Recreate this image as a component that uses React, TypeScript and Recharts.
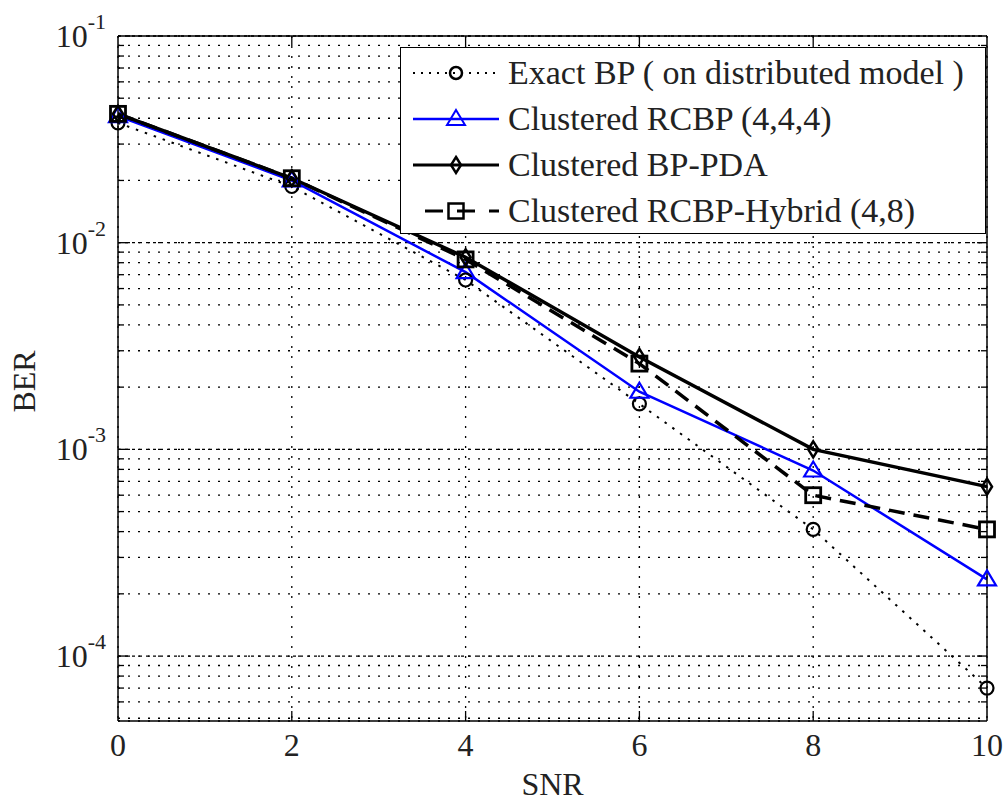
import React from "react";
import { LineChart, Line, XAxis, YAxis, CartesianGrid, Legend, ReferenceLine } from "recharts";

const snr = [0, 2, 4, 6, 8, 10];
const exactBP = [0.038, 0.0187, 0.0066, 0.00166, 0.00041, 0.00007];
const rcbp444 = [0.041, 0.02, 0.0072, 0.0019, 0.00079, 0.000235];
const bpPda = [0.042, 0.0205, 0.0085, 0.0028, 0.001, 0.00066];
const hybrid48 = [0.042, 0.0205, 0.0083, 0.0026, 0.0006, 0.00041];

const xTicks = [0, 2, 4, 6, 8, 10];
const decades = [0.0001, 0.001, 0.01, 0.1];
const yTicks = [
  0.00005, 0.00006, 0.00007, 0.00008, 0.00009,
  0.0001, 0.0002, 0.0003, 0.0004, 0.0005, 0.0006, 0.0007, 0.0008, 0.0009,
  0.001, 0.002, 0.003, 0.004, 0.005, 0.006, 0.007, 0.008, 0.009,
  0.01, 0.02, 0.03, 0.04, 0.05, 0.06, 0.07, 0.08, 0.09,
  0.1,
];

const seriesNames = [
  "Exact BP ( on distributed model )",
  "Clustered RCBP (4,4,4)",
  "Clustered BP-PDA",
  "Clustered RCBP-Hybrid (4,8)",
];

const rows = snr.map((s, i) => ({
  snr: s,
  exact: exactBP[i],
  rcbp: rcbp444[i],
  pda: bpPda[i],
  hybrid: hybrid48[i],
}));

const FONT = "Liberation Serif, DejaVu Serif, Noto Serif, serif";
const BLUE = "#0000ff";

const isDecade = (v: number) => decades.includes(v);

const LeftTick = (props: any) => {
  const { x, y, payload } = props;
  const v = payload.value;
  const major = isDecade(v);
  const exp = Math.round(Math.log10(v));
  return (
    <g>
      {v > 0.00005 && v < 0.1 && (
        <line x1={x} x2={x + (major ? 10 : 6)} y1={y} y2={y} stroke="#000" strokeWidth={1.3} />
      )}
      {major && (
        <text x={x - 12} y={y + 11} textAnchor="end" fontFamily={FONT} fontSize={32} fill="#222">
          10
          <tspan dy={-18} fontSize={22}>
            {exp}
          </tspan>
        </text>
      )}
    </g>
  );
};

const RightTick = (props: any) => {
  const { x, y, payload } = props;
  const v = payload.value;
  if (v <= 0.00005 || v >= 0.1) return <g />;
  return <line x1={x} x2={x - (isDecade(v) ? 10 : 6)} y1={y} y2={y} stroke="#000" strokeWidth={1.3} />;
};

const BottomTick = (props: any) => {
  const { x, y, payload } = props;
  const v = payload.value;
  return (
    <g>
      {v > 0 && v < 10 && <line x1={x} x2={x} y1={y} y2={y - 10} stroke="#000" strokeWidth={1.3} />}
      <text x={x} y={y + 35} textAnchor="middle" fontFamily={FONT} fontSize={32} fill="#222">
        {v}
      </text>
    </g>
  );
};

const TopTick = (props: any) => {
  const { x, y, payload } = props;
  const v = payload.value;
  if (v <= 0 || v >= 10) return <g />;
  return <line x1={x} x2={x} y1={y} y2={y + 10} stroke="#000" strokeWidth={1.3} />;
};

const circleDot = (p: any) => (
  <circle key={p.index} cx={p.cx} cy={p.cy} r={6.5} fill="none" stroke="#000" strokeWidth={2.2} />
);
const triangleDot = (p: any) => (
  <path
    key={p.index}
    d={`M${p.cx},${p.cy - 9} L${p.cx + 9},${p.cy + 6} L${p.cx - 9},${p.cy + 6} Z`}
    fill="none"
    stroke={BLUE}
    strokeWidth={2.2}
  />
);
const diamondDot = (p: any) => (
  <path
    key={p.index}
    d={`M${p.cx},${p.cy - 8} L${p.cx + 5},${p.cy} L${p.cx},${p.cy + 8} L${p.cx - 5},${p.cy} Z`}
    fill="none"
    stroke="#000"
    strokeWidth={2.5}
  />
);
const squareDot = (p: any) => (
  <rect key={p.index} x={p.cx - 7.5} y={p.cy - 7.5} width={15} height={15} fill="none" stroke="#000" strokeWidth={2.8} />
);

const legendSamples = [
  { dash: "2 6", color: "#000", width: 2, marker: (cx: number, cy: number) => <circle cx={cx} cy={cy} r={6} fill="none" stroke="#000" strokeWidth={2.5} /> },
  { dash: undefined, color: BLUE, width: 2.5, marker: (cx: number, cy: number) => <path d={`M${cx},${cy - 9} L${cx + 9},${cy + 6} L${cx - 9},${cy + 6} Z`} fill="none" stroke={BLUE} strokeWidth={2} /> },
  { dash: undefined, color: "#000", width: 3, marker: (cx: number, cy: number) => <path d={`M${cx},${cy - 8} L${cx + 5},${cy} L${cx},${cy + 8} L${cx - 5},${cy} Z`} fill="none" stroke="#000" strokeWidth={2.5} /> },
  { dash: "18 14", color: "#000", width: 3, marker: (cx: number, cy: number) => <rect x={cx - 7.5} y={cy - 7.5} width={15} height={15} fill="none" stroke="#000" strokeWidth={2.5} /> },
];

const renderLegend = () => (
  <div
    style={{
      width: 584,
      height: 183,
      border: "1.5px solid #000",
      background: "#fff",
      boxSizing: "content-box",
      paddingTop: 2,
    }}
  >
    {seriesNames.map((name, i) => {
      const s = legendSamples[i];
      return (
        <div key={name} style={{ display: "flex", alignItems: "center", height: 46 }}>
          <svg width={107} height={46} style={{ flex: "none" }}>
            <line x1={i === 3 ? 24 : 12} x2={98} y1={23} y2={23} stroke={s.color} strokeWidth={s.width} strokeDasharray={s.dash} />
            {s.marker(55, 23)}
          </svg>
          <span style={{ fontFamily: FONT, fontSize: 34, color: "#222", whiteSpace: "nowrap", lineHeight: "46px" }}>
            {name}
          </span>
        </div>
      );
    })}
  </div>
);

export default function App() {
  return (
    <div style={{ position: "absolute", left: 0, top: 0, background: "#fff" }}>
      <LineChart width={1008} height={804} data={rows} margin={{ top: 35, right: 20, bottom: 0, left: 0 }}>
        <CartesianGrid stroke="#000" strokeWidth={1.3} strokeDasharray="2 8" />
        {decades.map((d) => (
          <ReferenceLine key={d} y={d} stroke="#000" strokeWidth={1.3} strokeDasharray="3 4" />
        ))}
        <XAxis
          dataKey="snr"
          type="number"
          domain={[0, 10]}
          ticks={xTicks}
          tickSize={0}
          tickMargin={0}
          tickLine={false}
          tick={<BottomTick />}
          height={83}
          axisLine={{ stroke: "#000", strokeWidth: 1.5 }}
          interval={0}
          label={{
            content: (p: any) => (
              <text
                x={p.viewBox.x + p.viewBox.width / 2}
                y={p.viewBox.y + 74}
                textAnchor="middle"
                fontFamily={FONT}
                fontSize={32}
                fill="#222"
              >
                SNR
              </text>
            ),
          }}
        />
        <XAxis
          xAxisId="top"
          orientation="top"
          dataKey="snr"
          type="number"
          domain={[0, 10]}
          ticks={xTicks}
          tickSize={0}
          tickMargin={0}
          tickLine={false}
          tick={<TopTick />}
          height={1}
          axisLine={{ stroke: "#000", strokeWidth: 1.5 }}
          interval={0}
        />
        <YAxis
          type="number"
          scale="log"
          domain={[0.0000485, 0.1]}
          allowDataOverflow
          ticks={yTicks}
          interval={0}
          tickSize={0}
          tickMargin={0}
          tickLine={false}
          tick={<LeftTick />}
          width={118}
          axisLine={{ stroke: "#000", strokeWidth: 1.5 }}
          label={{
            content: (p: any) => {
              const cx = p.viewBox.x + 24;
              const cy = p.viewBox.y + p.viewBox.height / 2 + 3;
              return (
                <text
                  x={cx}
                  y={cy}
                  transform={`rotate(-90 ${cx} ${cy})`}
                  textAnchor="middle"
                  dominantBaseline="central"
                  fontFamily={FONT}
                  fontSize={32}
                  fill="#222"
                >
                  BER
                </text>
              );
            },
          }}
        />
        <YAxis
          yAxisId="right"
          orientation="right"
          type="number"
          scale="log"
          domain={[0.0000485, 0.1]}
          allowDataOverflow
          ticks={yTicks}
          interval={0}
          tickSize={0}
          tickMargin={0}
          tickLine={false}
          tick={<RightTick />}
          width={1}
          axisLine={{ stroke: "#000", strokeWidth: 1.5 }}
        />
        <Legend
          layout="vertical"
          align="center"
          verticalAlign="middle"
          content={renderLegend}
          wrapperStyle={{ left: 400, top: 47, width: 590 }}
        />
        <Line
          dataKey="exact"
          name={seriesNames[0]}
          stroke="#000"
          strokeWidth={2}
          strokeDasharray="2.5 7"
          dot={circleDot}
          isAnimationActive={false}
        />
        <Line
          dataKey="rcbp"
          name={seriesNames[1]}
          stroke={BLUE}
          strokeWidth={2.5}
          dot={triangleDot}
          isAnimationActive={false}
        />
        <Line
          dataKey="pda"
          name={seriesNames[2]}
          stroke="#000"
          strokeWidth={3.5}
          dot={diamondDot}
          isAnimationActive={false}
        />
        <Line
          dataKey="hybrid"
          name={seriesNames[3]}
          stroke="#000"
          strokeWidth={3.5}
          strokeDasharray="16 9"
          dot={squareDot}
          isAnimationActive={false}
        />
      </LineChart>
    </div>
  );
}
